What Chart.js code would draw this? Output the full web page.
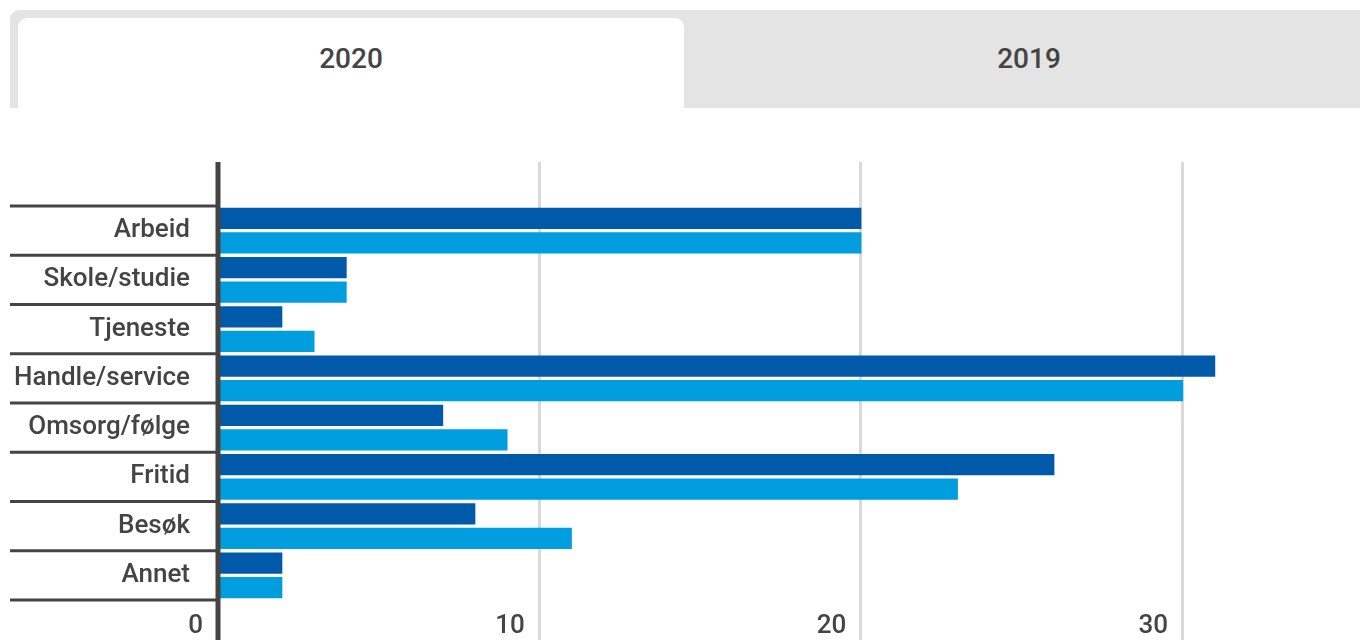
<!DOCTYPE html>
<html>
<head>
<meta charset="utf-8">
<script src="https://cdn.jsdelivr.net/npm/chart.js@4.4.1/dist/chart.umd.min.js"></script>
<style>
    html, body { margin: 0; padding: 0; background: #fff; overflow: hidden; }
    body { width: 1360px; height: 640px; position: relative; font-family: Roboto, sans-serif; }
    .tabs {
        position: absolute; left: 10px; top: 10px; width: 1370px; height: 98px;
        background: #e4e4e4; border-top-left-radius: 9px;
    }
    .tab {
        position: absolute; top: 8px; height: 90px; line-height: 82px;
        text-align: center; font-size: 28px; font-weight: 500; color: #444;
    }
    .tab.active { left: 8px; width: 666px; background: #fff; border-radius: 9px 9px 0 0; }
    .tab.other { left: 674px; width: 690px; }
    #chartWrap { position: absolute; left: 0; top: 120px; width: 1360px; height: 520px; }
</style>
</head>
<body>
<div class="tabs">
    <div class="tab active">2020</div>
    <div class="tab other">2019</div>
</div>
<div id="chartWrap"><canvas id="chart" width="1360" height="520"></canvas></div>
<script>
// categories and values
const categories = ['Arbeid', 'Skole/studie', 'Tjeneste', 'Handle/service', 'Omsorg/følge', 'Fritid', 'Besøk', 'Annet'];
const seriesLabels = ['Serie 1', 'Serie 2'];
const seriesDark = [20, 4, 2, 31, 7, 26, 8, 2];
const seriesLight = [20, 4, 3, 30, 9, 23, 11, 2];
const xTicks = [0, 10, 20, 30];
const xMax = 35.5;

const textColor = '#444';
const gridColor = '#d9d9d9';

/**
 * Draws the lines the chart has outside of its plot area:
 *   grid lines and the zero axis running up past the bars and down through the labels,
 *   the separators between category labels on the left
 */
const frameLines = {
    id: 'frameLines',
    beforeDatasetsDraw(chart){
        let ctx = chart.ctx;
        let x = chart.scales.x;
        ctx.save();
        ctx.strokeStyle = gridColor;
        ctx.lineWidth = 3;
        for(let v of xTicks){
            if(v === 0) continue;
            let px = Math.round(x.getPixelForValue(v)) - 0.5;
            ctx.beginPath();
            ctx.moveTo(px, 42);
            ctx.lineTo(px, chart.height);
            ctx.stroke();
        }
        ctx.restore();
    },
    afterDatasetsDraw(chart){
        let ctx = chart.ctx;
        let x = chart.scales.x;
        let y = chart.scales.y;
        ctx.save();
        // zero axis
        ctx.strokeStyle = textColor;
        ctx.lineWidth = 5;
        let x0 = x.getPixelForValue(0);
        ctx.beginPath();
        ctx.moveTo(x0, 42);
        ctx.lineTo(x0, chart.height);
        ctx.stroke();

        // separators between the category labels
        ctx.lineWidth = 3;
        let half = (y.getPixelForTick(1) - y.getPixelForTick(0)) / 2;
        let bounds = [y.getPixelForTick(0) - half];
        for(let i = 0; i < categories.length; i++){
            bounds.push(y.getPixelForTick(i) + half);
        }
        for(let b of bounds){
            ctx.beginPath();
            ctx.moveTo(10, b);
            ctx.lineTo(x0 - 2, b);
            ctx.stroke();
        }
        ctx.restore();
    }
};

Chart.defaults.font.family = 'Roboto';
Chart.defaults.color = textColor;

new Chart(document.getElementById('chart').getContext('2d'), {
    type: 'bar',
    data: {
        labels: categories,
        datasets: [
            { label: seriesLabels[0], data: seriesDark, backgroundColor: '#005aa9' },
            { label: seriesLabels[1], data: seriesLight, backgroundColor: '#009ddf' }
        ]
    },
    options: {
        indexAxis: 'y',
        responsive: false,
        animation: false,
        devicePixelRatio: 1,
        layout: { padding: { top: 86, left: 0, right: 0, bottom: 0 }, autoPadding: false },
        datasets: { bar: { categoryPercentage: 1.0, barPercentage: 0.86 } },
        plugins: { legend: { display: false }, tooltip: { enabled: false } },
        scales: {
            x: {
                min: 0,
                max: xMax,
                grid: { display: false },
                border: { display: false },
                afterFit: (s) => {
                    s.height = 40;
                    s.paddingLeft = 0;
                    s.paddingRight = 0;
                },
                afterBuildTicks: (s) => { s.ticks = xTicks.map(v => ({ value: v })); },
                ticks: {
                    align: 'end',
                    labelOffset: -15,
                    padding: 3,
                    font: { size: 26, weight: 500 },
                    color: textColor,
                    maxRotation: 0
                }
            },
            y: {
                grid: { display: false, drawTicks: false },
                border: { display: false },
                afterFit: (s) => {
                    s.width = 218;
                    // the label padding would otherwise push the plot bottom up
                    s.paddingTop = 0;
                    s.paddingBottom = 0;
                },
                ticks: {
                    padding: 28,
                    font: { size: 26, weight: 500 },
                    color: textColor
                }
            }
        }
    },
    plugins: [frameLines]
});
</script>
</body>
</html>
